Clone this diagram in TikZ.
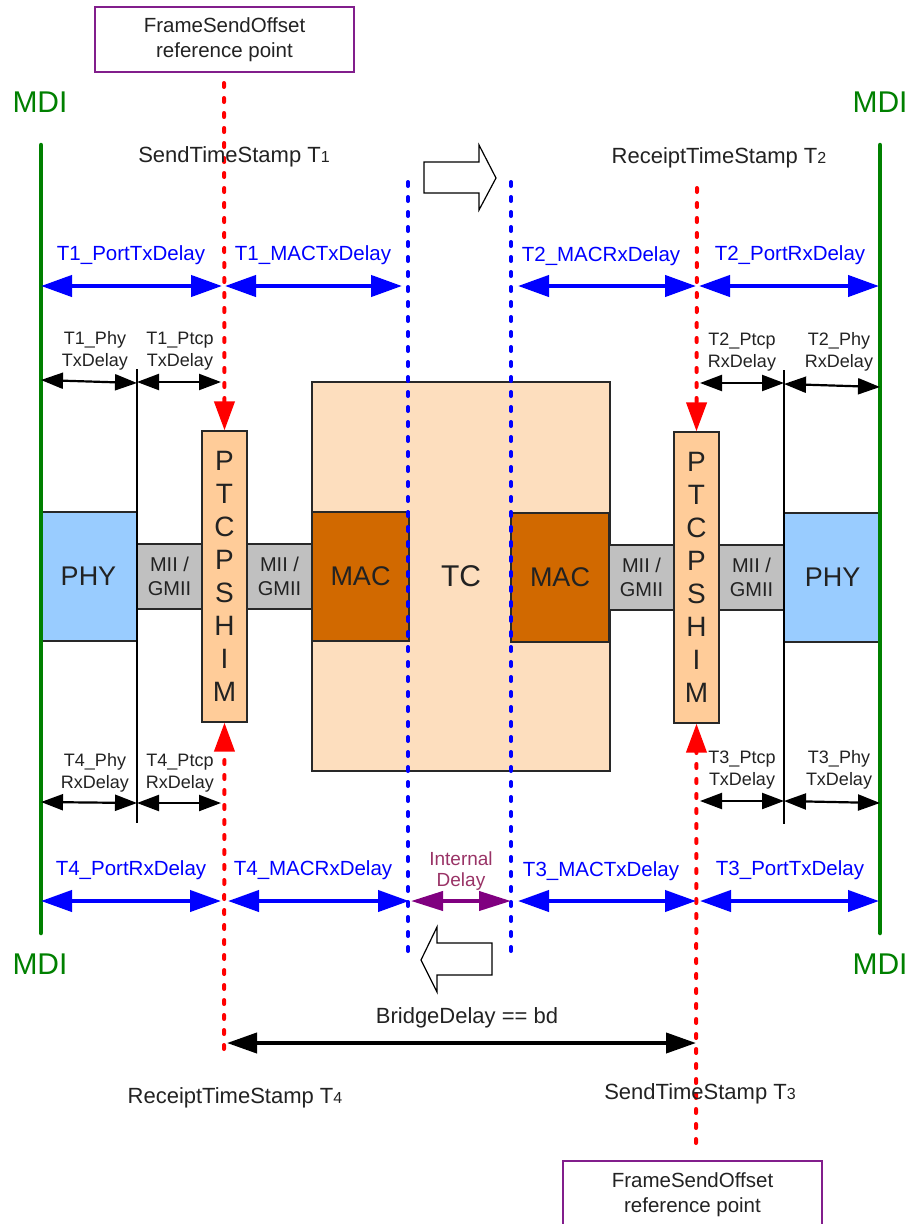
\documentclass[tikz,border=0pt]{standalone}
\usepackage{fontspec}
\setmainfont{Liberation Sans}
\usetikzlibrary{arrows.meta}
\newcommand\myfs[2]{\fontsize{#1}{#2}\selectfont}
\definecolor{txt}{RGB}{34,34,34}
\definecolor{tcfill}{RGB}{253,222,190}
\definecolor{macfill}{RGB}{209,105,0}
\definecolor{ptcpfill}{RGB}{255,204,153}
\definecolor{phyfill}{RGB}{153,204,255}
\definecolor{miifill}{RGB}{192,192,192}
\definecolor{mdigreen}{RGB}{0,128,0}
\definecolor{boxpurple}{RGB}{130,30,140}
\definecolor{intdelay}{RGB}{153,51,102}
\definecolor{intarrow}{RGB}{128,0,128}
\definecolor{boxline}{RGB}{40,40,40}
\begin{document}
\begin{tikzpicture}[x=1pt,y=-1pt,
  box/.style={draw=boxline, line width=1.2pt, inner sep=0pt, text=txt},
  fsobox/.style={draw=boxpurple, line width=1.5pt, minimum width=259pt, inner sep=0pt, align=center, text=txt, font=\myfs{20.5}{25}},
  bluelbl/.style={text=blue, inner sep=0pt, anchor=base, font=\myfs{20.5}{24}},
  smalllbl/.style={text=txt, inner sep=0pt, align=center, font=\myfs{18}{22}},
  stamp/.style={text=txt, inner sep=0pt, anchor=base, font=\myfs{22}{26}},
  mdilbl/.style={text=mdigreen, inner sep=0pt, anchor=base, font=\myfs{30}{36}},
  bigarr/.style={draw=blue, line width=4.2pt, {Triangle[length=31pt,width=21pt]}-{Triangle[length=31pt,width=21pt]}},
  smallarr/.style={draw=black, line width=2.2pt, {Triangle[length=22pt,width=16pt]}-{Triangle[length=22pt,width=16pt]}},
  reddot/.style={draw=red, line width=4pt, line cap=round, dash pattern=on 4pt off 11pt},
  bluedot/.style={draw=blue, line width=4pt, line cap=round, dash pattern=on 4pt off 11pt},
  mdiline/.style={draw=mdigreen, line width=4.5pt, line cap=round},
  thinline/.style={draw=black, line width=1.3pt},
  blockarrow/.style={draw=black, line width=1.2pt, fill=white},
]
\useasboundingbox (0,0) rectangle (913,1224);

% ---------- boxes ----------
\node[box, fill=tcfill, minimum width=298pt, minimum height=389pt, font=\myfs{30}{36}] (tc) at (461,576.5) {TC};
\node[box, fill=macfill, minimum width=97pt, minimum height=129pt, font=\myfs{27}{32}] (macL) at (360.5,576.5) {MAC};
\node[box, fill=macfill, minimum width=98pt, minimum height=129pt, font=\myfs{27}{32}] (macR) at (560,577.5) {MAC};
\node[box, fill=phyfill, minimum width=97pt, minimum height=129pt, font=\myfs{27}{32}] (phyL) at (88.5,576.5) {PHY};
\node[box, fill=phyfill, minimum width=97pt, minimum height=129pt, font=\myfs{27}{32}] (phyR) at (832.5,577.5) {PHY};
\node[box, fill=miifill, minimum width=65pt, minimum height=65pt, align=center, font=\myfs{20}{24}] (miiL1) at (169.5,576.5) {MII /\\GMII};
\node[box, fill=miifill, minimum width=65pt, minimum height=65pt, align=center, font=\myfs{20}{24}] (miiL2) at (279.5,576.5) {MII /\\GMII};
\node[box, fill=miifill, minimum width=65pt, minimum height=65pt, align=center, font=\myfs{20}{24}] (miiR1) at (641.5,577.5) {MII /\\GMII};
\node[box, fill=miifill, minimum width=65pt, minimum height=65pt, align=center, font=\myfs{20}{24}] (miiR2) at (751.5,577.5) {MII /\\GMII};
\node[box, fill=ptcpfill, minimum width=45pt, minimum height=291pt, align=center, font=\myfs{28}{33}] (ptcpL) at (224.5,576.5) {P\\T\\C\\P\\S\\H\\I\\M};
\node[box, fill=ptcpfill, minimum width=45pt, minimum height=291pt, align=center, font=\myfs{28}{33}] (ptcpR) at (696.5,577.5) {P\\T\\C\\P\\S\\H\\I\\M};

% ---------- FrameSendOffset boxes ----------
\node[fsobox, minimum height=65pt] (fsoTop) at (224.5,39.5) {FrameSendOffset\\reference point};
\node[fsobox, minimum height=68pt] (fsoBot) at (692.5,1195) {FrameSendOffset\\reference point};

% ---------- coordinates ----------
\coordinate (gL1) at (41,145);  \coordinate (gL2) at (41,933);
\coordinate (gR1) at (880,145); \coordinate (gR2) at (880,933);
\coordinate (tL1) at (137,369); \coordinate (tL2) at (137,823);
\coordinate (tR1) at (784,370); \coordinate (tR2) at (784,824);
\coordinate (bdL1) at (408,182); \coordinate (bdL2) at (408,958);
\coordinate (bdR1) at (511,182); \coordinate (bdR2) at (511,958);
\coordinate (rLt) at (224,83);  \coordinate (rLb) at (224,1049);
\coordinate (rRt) at (697,188); \coordinate (rRb) at (696,1143);

% ---------- lines ----------
\draw[mdiline] (gL1) -- (gL2);
\draw[mdiline] (gR1) -- (gR2);
\draw[thinline] (tL1) -- (tL2);
\draw[thinline] (tR1) -- (tR2);
\draw[bluedot] (bdL1) -- (bdL2);
\draw[bluedot] (bdR1) -- (bdR2);
\draw[reddot, -{Triangle[length=29pt,width=20pt]}] (rLt) -- (ptcpL.north);
\draw[reddot, -{Triangle[length=29pt,width=20pt]}] (rLb) -- (ptcpL.south);
\draw[reddot, -{Triangle[length=29pt,width=20pt]}] (rRt) -- (ptcpR.north);
\draw[reddot, -{Triangle[length=29pt,width=20pt]}] (rRb) -- (ptcpR.south);

% ---------- block arrows ----------
\draw[blockarrow] (424,162) -- (479,162) -- (479,145) -- (496,178) -- (479,210) -- (479,193) -- (424,193) -- cycle;
\draw[blockarrow] (492,943) -- (437,943) -- (437,927) -- (421,960) -- (437,992) -- (437,975) -- (492,975) -- cycle;

% ---------- blue delay arrows ----------
\coordinate (a1) at (41,286);  \coordinate (a2) at (222,286);
\coordinate (a3) at (225,286); \coordinate (a4) at (402,286);
\coordinate (a5) at (518,286); \coordinate (a6) at (696,286);
\coordinate (a7) at (699,286); \coordinate (a8) at (879,286);
\draw[bigarr] (a1) -- (a2);
\draw[bigarr] (a3) -- (a4);
\draw[bigarr] (a5) -- (a6);
\draw[bigarr] (a7) -- (a8);
\coordinate (b1) at (41,901);  \coordinate (b2) at (221,901);
\coordinate (b3) at (228,901); \coordinate (b4) at (409,901);
\coordinate (b5) at (411,901); \coordinate (b6) at (511,901);
\coordinate (b7) at (518,901); \coordinate (b8) at (696,901);
\coordinate (b9) at (700,901); \coordinate (b10) at (879,901);
\draw[bigarr] (b1) -- (b2);
\draw[bigarr] (b3) -- (b4);
\draw[draw=intarrow, line width=4pt, {Triangle[length=32pt,width=19pt]}-{Triangle[length=32pt,width=19pt]}] (b5) -- (b6);
\draw[bigarr] (b7) -- (b8);
\draw[bigarr] (b9) -- (b10);

% ---------- small black arrows ----------
\coordinate (s1) at (41,380);  \coordinate (s2) at (137,383);
\coordinate (s3) at (137,382); \coordinate (s4) at (221,382);
\coordinate (s5) at (700,383); \coordinate (s6) at (784,383);
\coordinate (s7) at (784,384); \coordinate (s8) at (880,387);
\coordinate (s9) at (41,802);  \coordinate (s10) at (137,803);
\coordinate (s11) at (137,803); \coordinate (s12) at (221,803);
\coordinate (s13) at (700,801); \coordinate (s14) at (784,801);
\coordinate (s15) at (784,801); \coordinate (s16) at (880,803);
\draw[smallarr] (s1) -- (s2);
\draw[smallarr] (s3) -- (s4);
\draw[smallarr] (s5) -- (s6);
\draw[smallarr] (s7) -- (s8);
\draw[smallarr] (s9) -- (s10);
\draw[smallarr] (s11) -- (s12);
\draw[smallarr] (s13) -- (s14);
\draw[smallarr] (s15) -- (s16);

% ---------- bridge delay ----------
\coordinate (bd1) at (227,1043); \coordinate (bd2) at (696,1043);
\draw[draw=black, line width=4pt, {Triangle[length=30pt,width=20pt]}-{Triangle[length=30pt,width=20pt]}] (bd1) -- (bd2);
\node[stamp] (bdlbl) at (467,1023) {BridgeDelay == bd};

% ---------- labels ----------
\node[mdilbl] (mdiLT) at (40,112) {MDI};
\node[mdilbl] (mdiRT) at (880,112) {MDI};
\node[mdilbl] (mdiLB) at (40,974) {MDI};
\node[mdilbl] (mdiRB) at (880,974) {MDI};

\node[stamp] (st1) at (234,162) {SendTimeStamp T{\myfs{16}{20}1}};
\node[stamp] (st2) at (719,163) {ReceiptTimeStamp T{\myfs{16}{20}2}};
\node[stamp] (st4) at (235,1103) {ReceiptTimeStamp T{\myfs{16}{20}4}};
\node[stamp] (st3) at (700,1099) {SendTimeStamp T{\myfs{16}{20}3}};

\node[bluelbl] (l1) at (131,260) {T1\_PortTxDelay};
\node[bluelbl] (l2) at (313,260) {T1\_MACTxDelay};
\node[bluelbl] (l3) at (601,261) {T2\_MACRxDelay};
\node[bluelbl] (l4) at (790,260) {T2\_PortRxDelay};
\node[bluelbl] (l5) at (131,875) {T4\_PortRxDelay};
\node[bluelbl] (l6) at (313,875) {T4\_MACRxDelay};
\node[bluelbl] (l7) at (601,876) {T3\_MACTxDelay};
\node[bluelbl] (l8) at (790,875) {T3\_PortTxDelay};

\node[text=intdelay, inner sep=0pt, align=center, font=\myfs{19}{21}] (intd) at (461,871) {Internal\\Delay};

\node[smalllbl] (k1) at (95,351) {T1\_Phy\\TxDelay};
\node[smalllbl] (k2) at (180,351) {T1\_Ptcp\\TxDelay};
\node[smalllbl] (k3) at (742,352) {T2\_Ptcp\\RxDelay};
\node[smalllbl] (k4) at (839,352) {T2\_Phy\\RxDelay};
\node[smalllbl] (k5) at (95,773) {T4\_Phy\\RxDelay};
\node[smalllbl] (k6) at (180,773) {T4\_Ptcp\\RxDelay};
\node[smalllbl] (k7) at (742,770) {T3\_Ptcp\\TxDelay};
\node[smalllbl] (k8) at (839,770) {T3\_Phy\\TxDelay};
\end{tikzpicture}
\end{document}
